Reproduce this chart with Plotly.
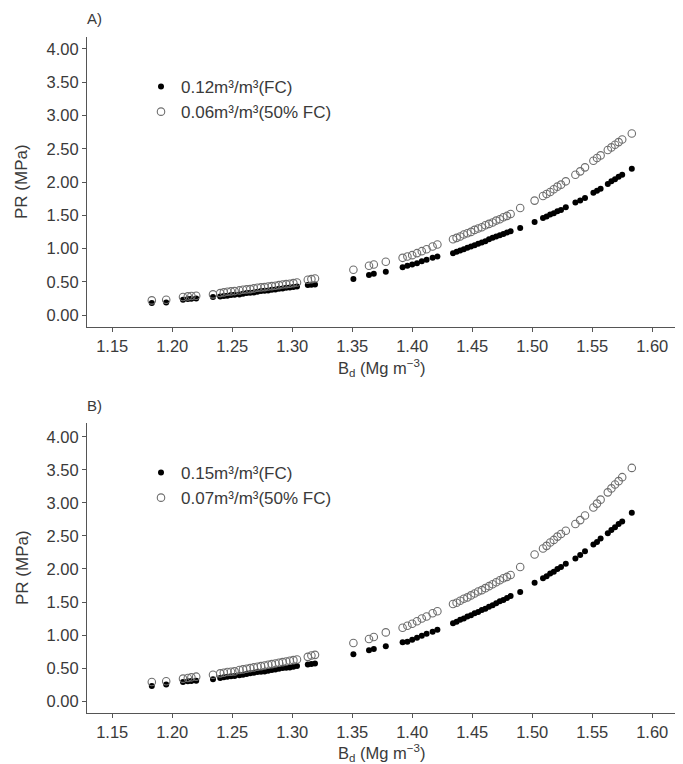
import plotly.graph_objects as go

# ---------------- data ----------------
bd = [1.183, 1.195, 1.209, 1.213, 1.216, 1.220, 1.234, 1.240, 1.243, 1.246,
      1.249, 1.252, 1.256, 1.259, 1.262, 1.265, 1.268, 1.271, 1.274, 1.277,
      1.280, 1.283, 1.286, 1.289, 1.292, 1.295, 1.298, 1.301, 1.304, 1.313,
      1.316, 1.319, 1.351, 1.364, 1.368, 1.378, 1.392, 1.396, 1.400, 1.404,
      1.408, 1.412, 1.417, 1.421, 1.434, 1.437, 1.440, 1.443, 1.446, 1.449,
      1.452, 1.455, 1.458, 1.461, 1.464, 1.467, 1.470, 1.473, 1.476, 1.479,
      1.482, 1.490, 1.502, 1.509, 1.512, 1.515, 1.518, 1.521, 1.524, 1.528,
      1.536, 1.540, 1.544, 1.551, 1.554, 1.557, 1.563, 1.566, 1.569, 1.572,
      1.575, 1.583]

pr_a_fc = [0.18, 0.19, 0.23, 0.24, 0.245, 0.25, 0.27, 0.28, 0.285, 0.29,
           0.30, 0.305, 0.31, 0.32, 0.33, 0.335, 0.34, 0.35, 0.36, 0.365,
           0.37, 0.38, 0.385, 0.395, 0.40, 0.41, 0.415, 0.42, 0.43, 0.45,
           0.455, 0.46, 0.54, 0.60, 0.62, 0.65, 0.72, 0.74, 0.76, 0.78,
           0.81, 0.83, 0.86, 0.88, 0.93, 0.95, 0.97, 0.99, 1.01, 1.03,
           1.05, 1.07, 1.09, 1.11, 1.14, 1.16, 1.18, 1.20, 1.22, 1.24,
           1.26, 1.31, 1.40, 1.46, 1.48, 1.51, 1.53, 1.56, 1.58, 1.62,
           1.69, 1.72, 1.76, 1.84, 1.87, 1.90, 1.97, 2.01, 2.04, 2.08,
           2.11, 2.20]

pr_a_half = [0.22, 0.23, 0.27, 0.28, 0.285, 0.29, 0.31, 0.33, 0.34, 0.35,
             0.355, 0.36, 0.37, 0.38, 0.385, 0.39, 0.40, 0.41, 0.415, 0.42,
             0.43, 0.435, 0.44, 0.45, 0.46, 0.465, 0.47, 0.48, 0.49, 0.53,
             0.54, 0.55, 0.68, 0.74, 0.76, 0.80, 0.86, 0.88, 0.90, 0.93,
             0.96, 0.99, 1.03, 1.06, 1.14, 1.16, 1.18, 1.21, 1.23, 1.25,
             1.28, 1.30, 1.32, 1.35, 1.37, 1.39, 1.42, 1.44, 1.47, 1.49,
             1.52, 1.61, 1.72, 1.79, 1.82, 1.85, 1.89, 1.93, 1.96, 2.01,
             2.11, 2.16, 2.22, 2.32, 2.36, 2.40, 2.48, 2.52, 2.56, 2.60,
             2.64, 2.73]

pr_b_fc = [0.23, 0.25, 0.29, 0.30, 0.305, 0.31, 0.33, 0.35, 0.36, 0.37,
           0.375, 0.38, 0.39, 0.40, 0.41, 0.42, 0.43, 0.44, 0.445, 0.45,
           0.46, 0.47, 0.48, 0.49, 0.50, 0.505, 0.51, 0.52, 0.53, 0.555,
           0.56, 0.57, 0.71, 0.77, 0.79, 0.83, 0.89, 0.90, 0.93, 0.96,
           0.99, 1.02, 1.05, 1.08, 1.18, 1.20, 1.23, 1.25, 1.28, 1.30,
           1.33, 1.35, 1.38, 1.40, 1.43, 1.45, 1.48, 1.51, 1.53, 1.56,
           1.59, 1.65, 1.79, 1.86, 1.89, 1.93, 1.96, 2.00, 2.03, 2.08,
           2.16, 2.21, 2.27, 2.37, 2.41, 2.46, 2.54, 2.59, 2.63, 2.68,
           2.72, 2.85]

pr_b_half = [0.29, 0.30, 0.34, 0.35, 0.36, 0.37, 0.40, 0.42, 0.43, 0.44,
             0.445, 0.45, 0.47, 0.48, 0.49, 0.50, 0.51, 0.52, 0.53, 0.54,
             0.55, 0.56, 0.57, 0.58, 0.59, 0.60, 0.61, 0.62, 0.63, 0.67,
             0.69, 0.70, 0.88, 0.94, 0.97, 1.04, 1.11, 1.14, 1.17, 1.21,
             1.25, 1.28, 1.33, 1.36, 1.47, 1.49, 1.52, 1.55, 1.57, 1.60,
             1.63, 1.66, 1.68, 1.71, 1.74, 1.77, 1.80, 1.83, 1.86, 1.88,
             1.91, 2.03, 2.22, 2.31, 2.35, 2.40, 2.44, 2.49, 2.53, 2.58,
             2.68, 2.74, 2.81, 2.93, 2.99, 3.05, 3.16, 3.22, 3.28, 3.33,
             3.39, 3.53]

legend_a = ["0.12m³/m³(FC)", "0.06m³/m³(50% FC)"]
legend_b = ["0.15m³/m³(FC)", "0.07m³/m³(50% FC)"]
panel_labels = ["A)", "B)"]
x_ticks = [1.15, 1.20, 1.25, 1.30, 1.35, 1.40, 1.45, 1.50, 1.55, 1.60]
x_tick_text = ["1.15", "1.20", "1.25", "1.30", "1.35", "1.40", "1.45", "1.50", "1.55", "1.60"]
y_ticks = [0.0, 0.5, 1.0, 1.5, 2.0, 2.5, 3.0, 3.5, 4.0]
y_tick_text = ["0.00", "0.50", "1.00", "1.50", "2.00", "2.50", "3.00", "3.50", "4.00"]
x_title = "B<sub>d</sub> (Mg m<sup>−3</sup>)"
y_title = "PR (MPa)"

# ---------------- figure ----------------
# the page body adds an 8px margin at top/left, so the figure is drawn 8px smaller
OFF = 8
W, H = 683 - OFF, 764 - OFF
FONT = "Liberation Sans, Arial, sans-serif"
TXT = "#3a3a3a"
LINE = "#555555"

fig = go.Figure()

filled = dict(size=6, color="black", line=dict(width=0))
opened = dict(size=7.5, symbol="circle-open", color="#6e6e6e", line=dict(width=1.1))

fig.add_trace(go.Scatter(x=bd, y=pr_a_fc, mode="markers", name=legend_a[0],
                         marker=filled, xaxis="x", yaxis="y", legend="legend"))
fig.add_trace(go.Scatter(x=bd, y=pr_a_half, mode="markers", name=legend_a[1],
                         marker=opened, xaxis="x", yaxis="y", legend="legend"))
fig.add_trace(go.Scatter(x=bd, y=pr_b_fc, mode="markers", name=legend_b[0],
                         marker=filled, xaxis="x2", yaxis="y2", legend="legend2"))
fig.add_trace(go.Scatter(x=bd, y=pr_b_half, mode="markers", name=legend_b[1],
                         marker=opened, xaxis="x2", yaxis="y2", legend="legend2"))


def px_x(p):
    return (p - OFF) / W


def px_y(p):
    return 1 - (p - OFF) / H


xdom = [px_x(87), px_x(675)]
common_x = dict(range=[1.129, 1.619], tickvals=x_ticks, ticktext=x_tick_text,
                showline=True, linecolor=LINE, linewidth=1, ticks="outside",
                ticklen=4, tickcolor=LINE, showgrid=False, zeroline=False,
                tickfont=dict(family=FONT, size=16.5, color=TXT), domain=xdom)
common_y = dict(tickvals=y_ticks, ticktext=y_tick_text,
                showline=True, linecolor=LINE, linewidth=1, ticks="outside",
                ticklen=4, tickcolor=LINE, showgrid=False, zeroline=False,
                tickfont=dict(family=FONT, size=16.5, color=TXT))

fig.update_layout(
    width=W, height=H,
    margin=dict(l=0, r=0, t=0, b=0),
    paper_bgcolor="white", plot_bgcolor="white",
    font=dict(family=FONT, color=TXT),
    xaxis=dict(**common_x, anchor="y"),
    yaxis=dict(**common_y, range=[-0.18, 4.18], anchor="x",
               domain=[px_y(327), px_y(37)]),
    xaxis2=dict(**common_x, anchor="y2"),
    yaxis2=dict(**common_y, range=[-0.18, 4.21], anchor="x2",
                domain=[px_y(713), px_y(423)]),
    legend=dict(x=px_x(141), y=px_y(69), xanchor="left", yanchor="top",
                bgcolor="rgba(0,0,0,0)", itemwidth=30,
                font=dict(family=FONT, size=17, color=TXT)),
    legend2=dict(x=px_x(141), y=px_y(455), xanchor="left", yanchor="top",
                 bgcolor="rgba(0,0,0,0)", itemwidth=30,
                 font=dict(family=FONT, size=17, color=TXT)),
    showlegend=True,
)

ann = []
for lbl, yc in zip(panel_labels, [18, 405]):
    ann.append(dict(text=lbl, x=px_x(85), y=px_y(yc), xref="paper", yref="paper",
                    xanchor="left", yanchor="middle", showarrow=False,
                    font=dict(family=FONT, size=15, color=TXT)))
for yc in [368, 753]:
    ann.append(dict(text=x_title, x=px_x(381), y=px_y(yc), xref="paper", yref="paper",
                    xanchor="center", yanchor="middle", showarrow=False,
                    font=dict(family=FONT, size=16.5, color=TXT)))
for yc in [182, 568]:
    ann.append(dict(text=y_title, x=px_x(22), y=px_y(yc), xref="paper", yref="paper",
                    xanchor="center", yanchor="middle", showarrow=False, textangle=-90,
                    font=dict(family=FONT, size=17, color=TXT)))
fig.update_layout(annotations=ann)

fig.write_html("out.html")
